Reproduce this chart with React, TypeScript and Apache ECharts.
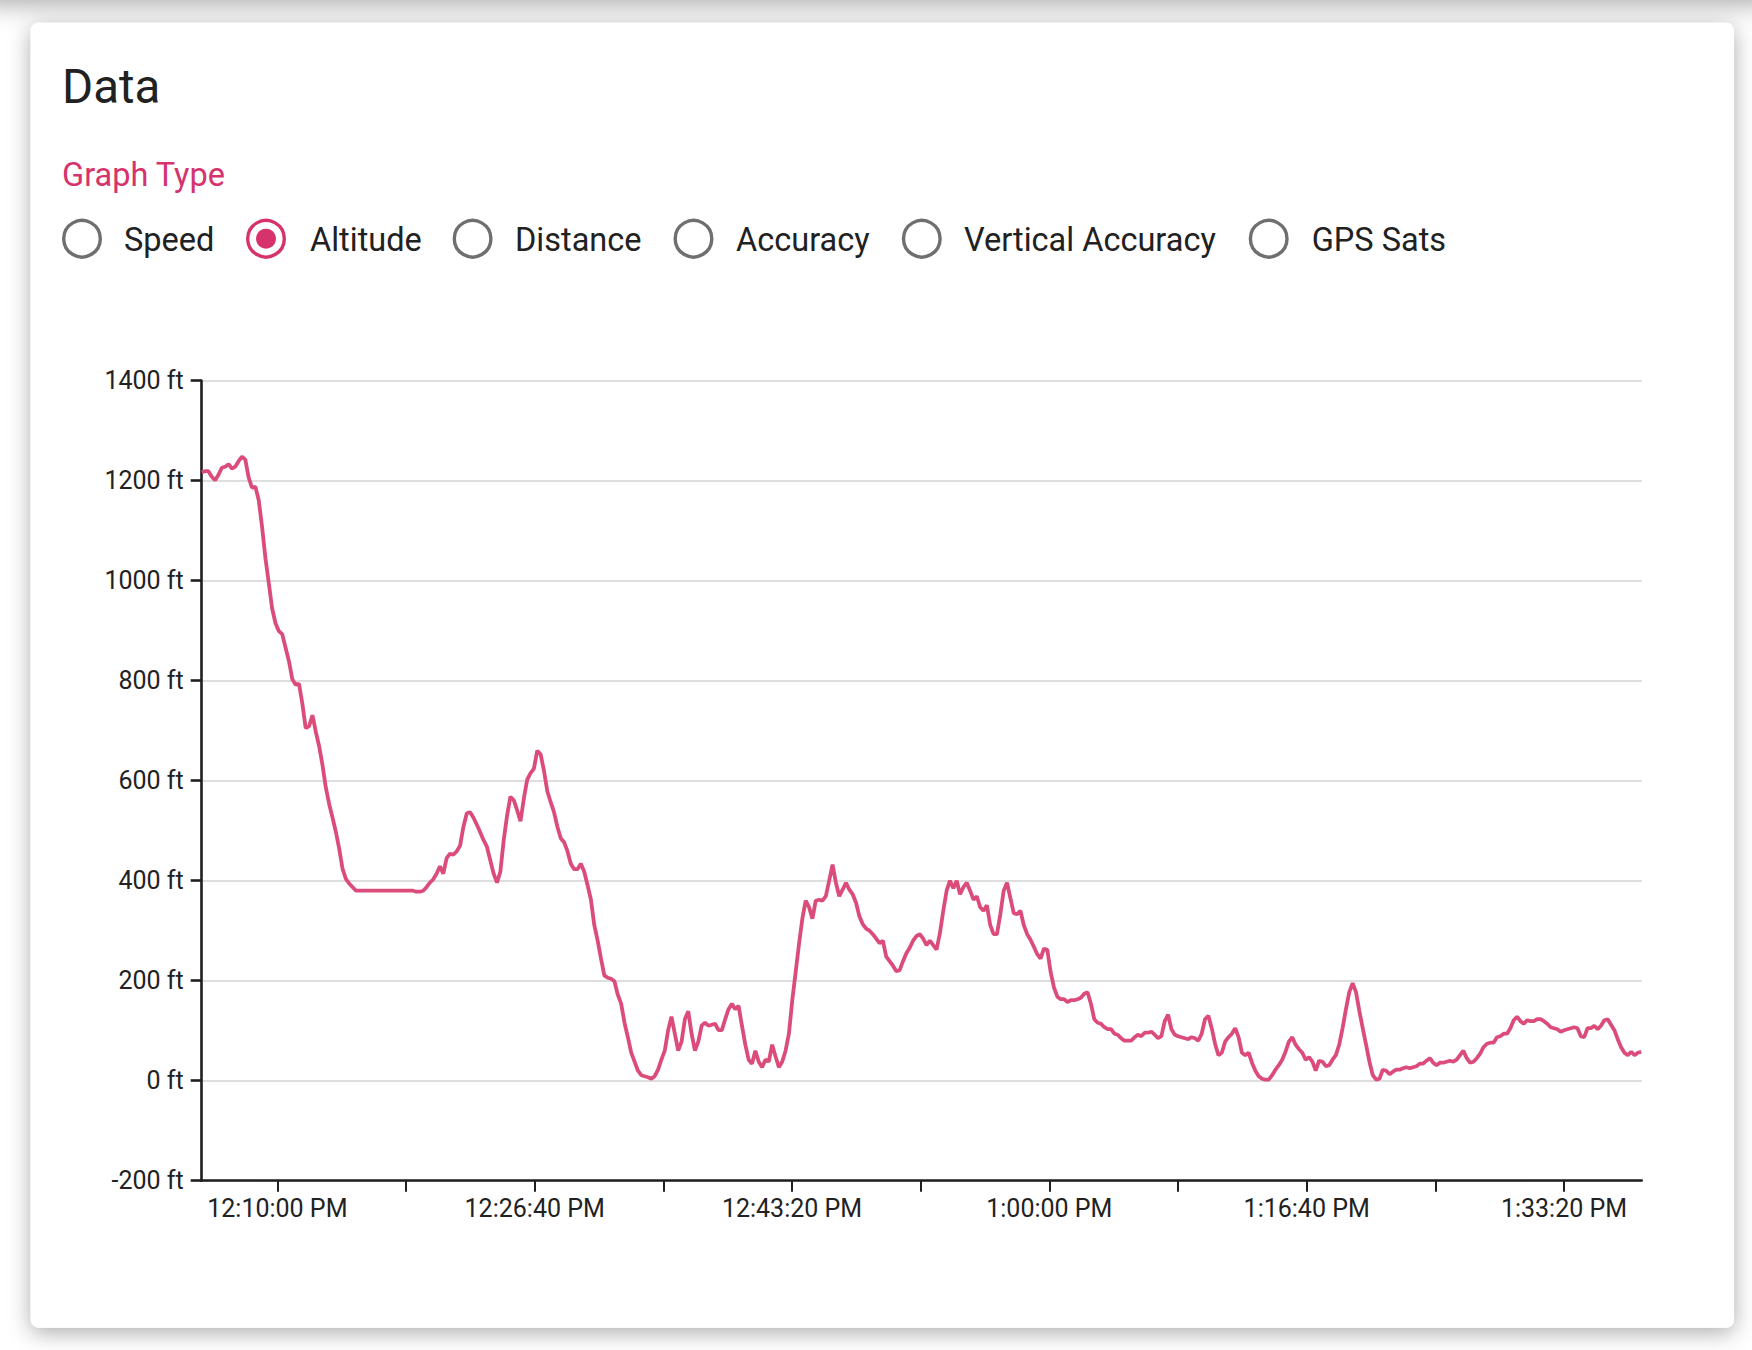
import React, { useEffect, useRef } from "react";
import * as echarts from "echarts";

// ---- data ----
const TITLE = "Data";
const GROUP_LABEL = "Graph Type";
const GRAPH_TYPES = ["Speed", "Altitude", "Distance", "Accuracy", "Vertical Accuracy", "GPS Sats"];
const SELECTED_TYPE = "Altitude";

// time in seconds after 12:00:00 PM
const TIME_MIN_S = 306;
const TIME_MAX_S = 5902;
const SAMPLE_START_S = 306;
const SAMPLE_STEP_S = 13.04;

const MAJOR_TICKS_S = [600, 1600, 2600, 3600, 4600, 5600];
const MAJOR_TICK_LABELS = ["12:10:00 PM", "12:26:40 PM", "12:43:20 PM", "1:00:00 PM", "1:16:40 PM", "1:33:20 PM"];
const MINOR_TICKS_S = [1100, 2100, 3100, 4100, 5100];

const Y_MIN = -200;
const Y_MAX = 1400;
const Y_STEP = 200;
const Y_UNIT = "ft";

// altitude in feet, one reading per sample
const ALTITUDE_FT = [
  1217, 1219, 1219, 1208, 1201, 1212, 1226, 1228, 1233, 1224,
  1228, 1239, 1248, 1242, 1206, 1186, 1188, 1161, 1107, 1045,
  995, 944, 915, 899, 893, 866, 839, 803, 792, 794,
  754, 705, 709, 731, 698, 669, 631, 586, 553, 526,
  497, 463, 423, 403, 394, 387, 380, 380, 380, 380,
  380, 380, 380, 380, 380, 380, 380, 380, 380, 380,
  380, 380, 380, 380, 378, 378, 380, 387, 396, 403,
  414, 429, 414, 445, 454, 452, 459, 470, 508, 535,
  537, 526, 512, 497, 481, 468, 441, 414, 396, 418,
  481, 530, 568, 561, 541, 519, 564, 602, 615, 624,
  660, 653, 620, 579, 557, 537, 508, 485, 477, 459,
  434, 423, 423, 434, 418, 391, 362, 311, 280, 244,
  210, 206, 204, 199, 172, 154, 116, 87, 56, 38,
  20, 11, 9, 7, 4, 9, 22, 42, 60, 101,
  128, 94, 60, 78, 123, 139, 94, 60, 78, 110,
  116, 110, 112, 114, 101, 101, 123, 143, 154, 143,
  150, 110, 72, 42, 34, 60, 38, 27, 42, 38,
  72, 49, 27, 38, 60, 94, 161, 217, 273, 324,
  360, 347, 324, 360, 362, 360, 369, 400, 432, 396,
  369, 382, 396, 382, 373, 356, 329, 313, 304, 300,
  293, 284, 275, 280, 248, 239, 230, 219, 221, 239,
  255, 266, 280, 289, 293, 284, 271, 280, 271, 262,
  295, 340, 380, 400, 385, 400, 373, 387, 396, 380,
  362, 369, 347, 340, 351, 311, 293, 293, 333, 380,
  396, 365, 335, 333, 340, 311, 293, 282, 268, 253,
  244, 264, 262, 217, 186, 168, 163, 163, 157, 161,
  161, 163, 166, 174, 177, 154, 123, 116, 114, 107,
  103, 103, 94, 92, 85, 80, 80, 80, 87, 92,
  89, 96, 96, 98, 92, 85, 89, 119, 132, 103,
  92, 89, 87, 85, 83, 87, 85, 80, 94, 123,
  130, 105, 74, 51, 56, 78, 87, 94, 105, 87,
  56, 51, 56, 36, 20, 9, 4, 2, 2, 11,
  22, 31, 42, 58, 78, 87, 72, 63, 56, 42,
  47, 38, 20, 40, 38, 29, 31, 42, 51, 72,
  105, 143, 177, 195, 177, 139, 105, 72, 38, 11,
  2, 4, 22, 20, 13, 18, 22, 22, 25, 27,
  25, 27, 29, 34, 34, 40, 45, 36, 31, 36,
  36, 38, 40, 38, 42, 51, 60, 45, 36, 38,
  45, 54, 67, 74, 76, 76, 87, 89, 94, 94,
  105, 121, 128, 119, 114, 121, 119, 119, 123, 123,
  119, 114, 107, 105, 103, 98, 101, 103, 105, 107,
  105, 89, 87, 105, 105, 110, 103, 110, 121, 123,
  112, 101, 83, 67, 56, 51, 58, 51, 56, 58,
];

// ---- styles ----
const PINK = "#d6336c";
const LINE_PINK = "#dc4c7b";
const TEXT = "#212121";
const RADIO_GREY = "#6f6f6f";
const FONT = "Roboto, 'Noto Sans', sans-serif";

const RADIO_X = [82, 266, 472.6, 693.5, 921.8, 1268.7];
const RADIO_LABEL_X = [124, 310, 515, 736, 964, 1311.7];
const RADIO_Y = 238.7;

export default function App() {
  const ref = useRef<HTMLDivElement>(null);

  useEffect(() => {
    document.body.style.margin = "0";
    const chart = echarts.init(ref.current!, null, { renderer: "svg" });

    const seriesData = ALTITUDE_FT.map((a, i) => [SAMPLE_START_S + i * SAMPLE_STEP_S, a]);
    const labelFor = (v: number) => {
      const idx = MAJOR_TICKS_S.indexOf(Math.round(v));
      return idx >= 0 ? MAJOR_TICK_LABELS[idx] : "";
    };

    const radios: any[] = [];
    GRAPH_TYPES.forEach((name, i) => {
      const checked = name === SELECTED_TYPE;
      radios.push({
        type: "circle",
        shape: { cx: RADIO_X[i], cy: RADIO_Y, r: 18.3 },
        style: { fill: "none", stroke: checked ? PINK : RADIO_GREY, lineWidth: 3.4 },
        z: 10,
      });
      if (checked) {
        radios.push({
          type: "circle",
          shape: { cx: RADIO_X[i], cy: RADIO_Y, r: 10 },
          style: { fill: PINK },
          z: 10,
        });
      }
      radios.push({
        type: "text",
        x: RADIO_LABEL_X[i],
        y: RADIO_Y + 1,
        style: {
          text: name,
          fill: TEXT,
          font: `400 32.5px ${FONT}`,
          textAlign: "left",
          textVerticalAlign: "middle",
          verticalAlign: "middle",
        },
        z: 10,
      });
    });

    chart.setOption({
      animation: false,
      backgroundColor: "#ffffff",
      graphic: [
        {
          type: "rect",
          shape: { x: -20, y: -200, width: 1792, height: 198, r: 8 },
          style: { fill: "#ffffff", shadowBlur: 26, shadowOffsetY: 6, shadowColor: "rgba(0,0,0,0.35)" },
          z: 0,
        },
        {
          type: "rect",
          shape: { x: 30.7, y: 22.7, width: 1703.3, height: 1305, r: 8 },
          style: { fill: "#ffffff", shadowBlur: 22, shadowOffsetY: 5, shadowColor: "rgba(0,0,0,0.33)" },
          z: 0,
        },
        {
          type: "text",
          x: 62,
          y: 87,
          style: { text: TITLE, fill: TEXT, font: `400 47.5px ${FONT}`, verticalAlign: "middle", textVerticalAlign: "middle" },
          z: 10,
        },
        {
          type: "text",
          x: 62,
          y: 174.5,
          style: { text: GROUP_LABEL, fill: PINK, font: `400 32.5px ${FONT}`, verticalAlign: "middle", textVerticalAlign: "middle" },
          z: 10,
        },
        ...radios,
      ],
      grid: { left: 201.7, top: 380.7, width: 1440, height: 800, containLabel: false },
      xAxis: {
        type: "value",
        min: TIME_MIN_S,
        max: TIME_MAX_S,
        axisLine: { show: true, onZero: false, lineStyle: { color: "#1f1f1f", width: 2.6 } },
        axisTick: {
          show: true,
          customValues: [...MAJOR_TICKS_S, ...MINOR_TICKS_S].sort((a, b) => a - b),
          length: 11,
          lineStyle: { color: "#1f1f1f", width: 2 },
        },
        axisLabel: {
          customValues: MAJOR_TICKS_S,
          formatter: (v: number) => labelFor(v),
          color: "#222",
          fontFamily: FONT,
          fontSize: 25,
          margin: 15,
          showMinLabel: true,
          showMaxLabel: true,
        },
        splitLine: { show: false },
      },
      yAxis: {
        type: "value",
        min: Y_MIN,
        max: Y_MAX,
        interval: Y_STEP,
        axisLine: { show: true, onZero: false, lineStyle: { color: "#1f1f1f", width: 2.6 } },
        axisTick: { show: true, length: 11, lineStyle: { color: "#1f1f1f", width: 2.6 } },
        axisLabel: {
          formatter: (v: number) => `${v} ${Y_UNIT}`,
          color: "#222",
          fontFamily: FONT,
          fontSize: 25,
          margin: 18,
        },
        splitLine: { show: true, lineStyle: { color: "#dedede", width: 2 } },
      },
      series: [
        {
          type: "line",
          data: seriesData,
          showSymbol: false,
          symbol: "none",
          lineStyle: { color: LINE_PINK, width: 3.8 },
          itemStyle: { color: LINE_PINK },
          z: 5,
        },
      ],
    });

    return () => chart.dispose();
  }, []);

  return (
    <div
      ref={ref}
      style={{ position: "absolute", left: 0, top: 0, width: 1752, height: 1350, background: "#fff" }}
    />
  );
}
